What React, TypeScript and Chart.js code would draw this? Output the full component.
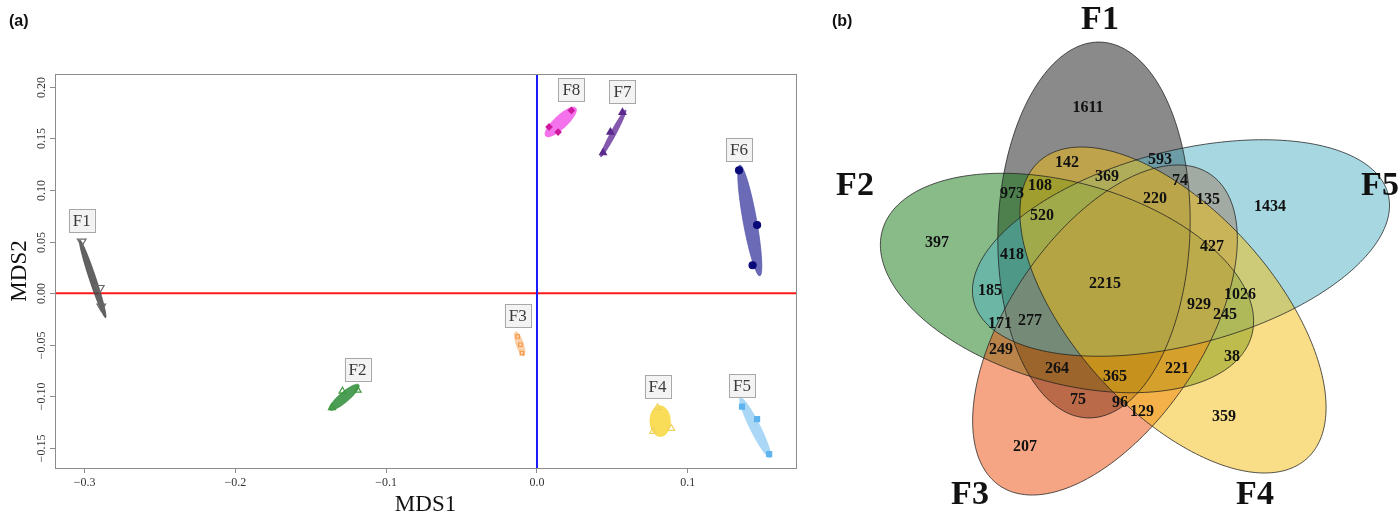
import React, { useEffect, useRef } from "react";
import { Chart, registerables } from "chart.js";
Chart.register(...registerables);

// ---------------- Panel (a): NMDS ----------------
const groups = ["F1", "F2", "F3", "F4", "F5", "F6", "F7", "F8"];
const mds1 = [
  [-0.302, -0.29, -0.289],
  [-0.136, -0.129, -0.119],
  [-0.0128, -0.011, -0.01],
  [0.08, 0.077, 0.089],
  [0.136, 0.146, 0.154],
  [0.134, 0.146, 0.143],
  [0.0567, 0.0487, 0.0438],
  [0.0228, 0.008, 0.014],
];
const mds2 = [
  [0.05, 0.005, -0.013],
  [-0.111, -0.095, -0.094],
  [-0.042, -0.05, -0.058],
  [-0.111, -0.134, -0.131],
  [-0.11, -0.122, -0.156],
  [0.119, 0.066, 0.027],
  [0.175, 0.156, 0.136],
  [0.177, 0.161, 0.156],
];
// ellipse major-axis end points [x1, y1, x2, y2] in MDS units
const ellipseEnds = [
  [-0.3033, 0.0516, -0.2861, -0.0239],
  [-0.1376, -0.113, -0.1182, -0.0888],
  [-0.0141, -0.0375, -0.0088, -0.0607],
  [0.0814, -0.109, 0.082, -0.139],
  [0.1349, -0.1014, 0.1547, -0.1594],
  [0.1345, 0.1242, 0.1478, 0.0167],
  [0.0423, 0.132, 0.0589, 0.1775],
  [0.0058, 0.1523, 0.0257, 0.1794],
];
const ellipseRatio = [0.08, 0.26, 0.28, 0.66, 0.15, 0.12, 0.1, 0.32];
const xTickStep = 0.1;
const yTickStep = 0.05;
const xRange = [-0.3197, 0.1718];
const yRange = [-0.1694, 0.2123];

const pointStyles = ["triangle", "triangle", "rect", "triangle", "rect", "circle", "triangle", "rectRot"];
const pointRot = [180, 0, 0, 0, 0, 0, 0, 0];
const pointRadius = [5, 4, 2.5, 4, 3.5, 3.5, 4, 3];
const pointBorder = ["#6a6a6a", "#3f9a3f", "#f39a4a", "#f0d260", "#5fb4ee", "#0a0a78", "#5a2a8c", "#d0189e"];
const pointFill = ["rgba(0,0,0,0)", "rgba(0,0,0,0)", "rgba(0,0,0,0)", "rgba(0,0,0,0)", "#5fb4ee", "#0a0a78", "#5a2a8c", "#d0189e"];
const ellipseFill = [
  "rgba(70,70,70,0.85)",
  "rgba(45,140,55,0.85)",
  "rgba(250,170,100,0.55)",
  "rgba(248,215,60,0.85)",
  "rgba(155,208,245,0.85)",
  "rgba(85,85,172,0.88)",
  "rgba(110,60,160,0.85)",
  "rgba(242,95,232,0.88)",
];

// ---------------- Panel (b): Venn ----------------
const sets = ["F1", "F2", "F3", "F4", "F5"];
const vennCX = [274, 247, 285, 353, 361];
const vennCY = [230, 283, 330, 310, 248];
const vennA = [188, 192, 188, 200, 214];
const vennB = [96, 100, 97, 100, 97];
const vennAngle = [-88, 16, -56, 48, -14.6];
const vennFill = [
  "rgba(22,22,22,0.5)",
  "rgba(20,120,20,0.5)",
  "rgba(235,75,10,0.5)",
  "rgba(243,190,15,0.5)",
  "rgba(80,178,195,0.5)",
];
const vennDrawOrder = [0, 1, 2, 4, 3];
const setLabelPos = [
  [280, 20],
  [35, 186],
  [150, 495],
  [435, 495],
  [560, 186],
];
const counts = [1611, 142, 593, 369, 74, 973, 108, 220, 135, 1434, 520, 397, 418, 427, 2215, 185, 929, 1026, 171, 277, 245, 249, 264, 365, 221, 38, 75, 96, 129, 207, 359];
const countPos = [
  [268, 108], [247, 163], [340, 160], [287, 177], [360, 181], [192, 194], [220, 186], [335, 199], [388, 200], [450, 207],
  [222, 216], [117, 243], [192, 255], [392, 247], [285, 284], [170, 291], [379, 305], [420, 295], [180, 324], [210, 321],
  [405, 315], [181, 350], [237, 369], [295, 377], [357, 369], [412, 357], [258, 400], [300, 403], [322, 412], [205, 447], [404, 417],
];

const SERIF = "'Liberation Serif', 'Times New Roman', serif";

function fmtSigned(v: number, d: number) {
  if (Math.abs(v) < 1e-9) return (0).toFixed(d);
  return (v < 0 ? "\u2212" : "") + Math.abs(v).toFixed(d);
}

const nmdsPlugin = {
  id: "nmds",
  beforeDatasetsDraw(chart: any) {
    const { ctx, chartArea: ca } = chart;
    const xs = chart.scales.x;
    const ys = chart.scales.y;
    ctx.save();
    ctx.beginPath();
    ctx.rect(ca.left, ca.top, ca.right - ca.left, ca.bottom - ca.top);
    ctx.clip();
    // reference lines
    ctx.lineWidth = 2;
    ctx.strokeStyle = "#ff1a1a";
    const y0 = ys.getPixelForValue(0);
    ctx.beginPath();
    ctx.moveTo(ca.left, y0);
    ctx.lineTo(ca.right, y0);
    ctx.stroke();
    ctx.strokeStyle = "#1a1aff";
    const x0 = xs.getPixelForValue(0);
    ctx.beginPath();
    ctx.moveTo(x0, ca.top);
    ctx.lineTo(x0, ca.bottom);
    ctx.stroke();
    // ellipses
    ellipseEnds.forEach((e, i) => {
      const x1 = xs.getPixelForValue(e[0]);
      const y1 = ys.getPixelForValue(e[1]);
      const x2 = xs.getPixelForValue(e[2]);
      const y2 = ys.getPixelForValue(e[3]);
      const cx = (x1 + x2) / 2;
      const cy = (y1 + y2) / 2;
      const len = Math.hypot(x2 - x1, y2 - y1) / 2;
      const ang = Math.atan2(y2 - y1, x2 - x1);
      ctx.beginPath();
      ctx.ellipse(cx, cy, len, len * ellipseRatio[i], ang, 0, Math.PI * 2);
      ctx.fillStyle = ellipseFill[i];
      ctx.fill();
      ctx.lineWidth = 0.8;
      ctx.strokeStyle = ellipseFill[i];
      ctx.stroke();
    });
    ctx.restore();
  },
  afterDatasetsDraw(chart: any) {
    const { ctx } = chart;
    const xs = chart.scales.x;
    const ys = chart.scales.y;
    ctx.save();
    groups.forEach((g, i) => {
      let k = 0;
      mds2[i].forEach((v, j) => {
        if (v > mds2[i][k]) k = j;
      });
      const px = xs.getPixelForValue(mds1[i][k]);
      const py = ys.getPixelForValue(mds2[i][k]) - 21;
      ctx.font = `17px ${SERIF}`;
      const w = ctx.measureText(g).width + 8;
      const h = 23;
      ctx.fillStyle = "#f3f3f3";
      ctx.fillRect(px - w / 2, py - h / 2, w, h);
      ctx.strokeStyle = "#a8a8a8";
      ctx.lineWidth = 1;
      ctx.strokeRect(Math.round(px - w / 2) + 0.5, Math.round(py - h / 2) + 0.5, Math.round(w), h);
      ctx.fillStyle = "#3a3a3a";
      ctx.textAlign = "center";
      ctx.textBaseline = "middle";
      ctx.fillText(g, px, py + 1);
    });
    ctx.restore();
  },
  afterDraw(chart: any) {
    const { ctx, chartArea: ca } = chart;
    const ys = chart.scales.y;
    ctx.save();
    ctx.strokeStyle = "#8c8c8c";
    ctx.lineWidth = 1;
    ctx.strokeRect(Math.round(ca.left) + 0.5, Math.round(ca.top) + 0.5, Math.round(ca.right - ca.left), Math.round(ca.bottom - ca.top));
    // y ticks rotated
    ctx.font = `12px ${SERIF}`;
    ctx.fillStyle = "#333";
    ys.ticks.forEach((t: any) => {
      const py = Math.round(ys.getPixelForValue(t.value)) + 0.5;
      ctx.beginPath();
      ctx.moveTo(ca.left - 5, py);
      ctx.lineTo(ca.left, py);
      ctx.stroke();
      ctx.save();
      ctx.translate(ca.left - 13, py);
      ctx.rotate(-Math.PI / 2);
      ctx.textAlign = "center";
      ctx.textBaseline = "middle";
      ctx.fillText(fmtSigned(t.value, 2), 0, 0);
      ctx.restore();
    });
    // axis titles
    ctx.fillStyle = "#111";
    ctx.font = `23px ${SERIF}`;
    ctx.textAlign = "center";
    ctx.textBaseline = "middle";
    ctx.fillText("MDS1", (ca.left + ca.right) / 2, 505);
    ctx.save();
    ctx.translate(20, (ca.top + ca.bottom) / 2);
    ctx.rotate(-Math.PI / 2);
    ctx.fillText("MDS2", 0, 0);
    ctx.restore();
    ctx.font = "bold 16px 'Liberation Sans', Arial, sans-serif";
    ctx.textAlign = "left";
    ctx.fillText("(a)", 9, 22);
    ctx.restore();
  },
};

function ellipsePath(ctx: CanvasRenderingContext2D, xs: any, ys: any, i: number) {
  const th = (vennAngle[i] * Math.PI) / 180;
  const c = Math.cos(th);
  const s = Math.sin(th);
  ctx.beginPath();
  for (let k = 0; k <= 240; k++) {
    const t = (k / 240) * Math.PI * 2;
    const ex = vennA[i] * Math.cos(t);
    const ey = vennB[i] * Math.sin(t);
    const dx = vennCX[i] + ex * c - ey * s;
    const dy = vennCY[i] + ex * s + ey * c;
    const px = xs.getPixelForValue(dx);
    const py = ys.getPixelForValue(dy);
    if (k === 0) ctx.moveTo(px, py);
    else ctx.lineTo(px, py);
  }
  ctx.closePath();
}

const vennPlugin = {
  id: "venn",
  afterDraw(chart: any) {
    const { ctx } = chart;
    const xs = chart.scales.x;
    const ys = chart.scales.y;
    ctx.save();
    vennDrawOrder.forEach((i) => {
      ellipsePath(ctx, xs, ys, i);
      ctx.fillStyle = vennFill[i];
      ctx.fill();
    });
    vennDrawOrder.forEach((i) => {
      ellipsePath(ctx, xs, ys, i);
      ctx.strokeStyle = "rgba(30,30,30,0.75)";
      ctx.lineWidth = 1;
      ctx.stroke();
    });
    ctx.fillStyle = "#111";
    ctx.textAlign = "center";
    ctx.textBaseline = "middle";
    ctx.font = `bold 16px ${SERIF}`;
    counts.forEach((n, i) => {
      ctx.fillText(String(n), xs.getPixelForValue(countPos[i][0]), ys.getPixelForValue(countPos[i][1]));
    });
    ctx.font = `bold 34px ${SERIF}`;
    sets.forEach((name, i) => {
      ctx.fillText(name, xs.getPixelForValue(setLabelPos[i][0]), ys.getPixelForValue(setLabelPos[i][1]));
    });
    ctx.font = "bold 16px 'Liberation Sans', Arial, sans-serif";
    ctx.textAlign = "left";
    ctx.fillText("(b)", 12, 22);
    ctx.restore();
  },
};

export default function App() {
  const refA = useRef<HTMLCanvasElement>(null);
  const refB = useRef<HTMLCanvasElement>(null);
  useEffect(() => {
    document.body.style.margin = "0";
    const datasets = groups.map((g, i) => ({
      label: g,
      data: mds1[i].map((x, j) => ({ x, y: mds2[i][j] })),
      pointStyle: pointStyles[i],
      pointRotation: pointRot[i],
      pointRadius: pointRadius[i],
      pointBorderColor: pointBorder[i],
      pointBackgroundColor: pointFill[i],
      pointBorderWidth: 1.2,
    }));
    const chartA = new Chart(refA.current as HTMLCanvasElement, {
      type: "scatter",
      data: { datasets } as any,
      options: {
        animation: false,
        responsive: false,
        maintainAspectRatio: false,
        layout: { padding: { left: 0, top: 74, right: 24, bottom: 0 } },
        plugins: { legend: { display: false }, tooltip: { enabled: false } },
        scales: {
          x: {
            type: "linear",
            min: xRange[0],
            max: xRange[1],
            afterFit: (s: any) => {
              s.height = 47;
            },
            border: { display: false },
            grid: { display: true, drawOnChartArea: false, drawTicks: true, tickLength: 5, color: "#8c8c8c" },
            ticks: {
              stepSize: xTickStep,
              includeBounds: false,
              autoSkip: false,
              maxRotation: 0,
              padding: 3,
              color: "#333",
              font: { family: SERIF, size: 12 },
              callback: (v: any) => fmtSigned(Number(v), 1),
            },
          },
          y: {
            type: "linear",
            min: yRange[0],
            max: yRange[1],
            afterFit: (s: any) => {
              s.width = 55;
            },
            border: { display: false },
            grid: { display: false },
            ticks: { stepSize: yTickStep, includeBounds: false, display: false },
          },
        },
      } as any,
      plugins: [nmdsPlugin],
    });
    const chartB = new Chart(refB.current as HTMLCanvasElement, {
      type: "scatter",
      data: { datasets: [{ data: countPos.map((p) => ({ x: p[0], y: p[1] })), pointRadius: 0 }] } as any,
      options: {
        animation: false,
        responsive: false,
        maintainAspectRatio: false,
        layout: { padding: 0 },
        plugins: { legend: { display: false }, tooltip: { enabled: false } },
        scales: {
          x: { type: "linear", min: 0, max: 580, display: false },
          y: { type: "linear", min: 0, max: 515, reverse: true, display: false },
        },
      } as any,
      plugins: [vennPlugin],
    });
    return () => {
      chartA.destroy();
      chartB.destroy();
    };
  }, []);
  return (
    <div style={{ position: "fixed", left: 0, top: 0, width: 1400, height: 515, background: "#fff", overflow: "hidden" }}>
      <canvas ref={refA} width={820} height={515} style={{ position: "absolute", left: 0, top: 0 }} />
      <canvas ref={refB} width={580} height={515} style={{ position: "absolute", left: 820, top: 0 }} />
    </div>
  );
}
